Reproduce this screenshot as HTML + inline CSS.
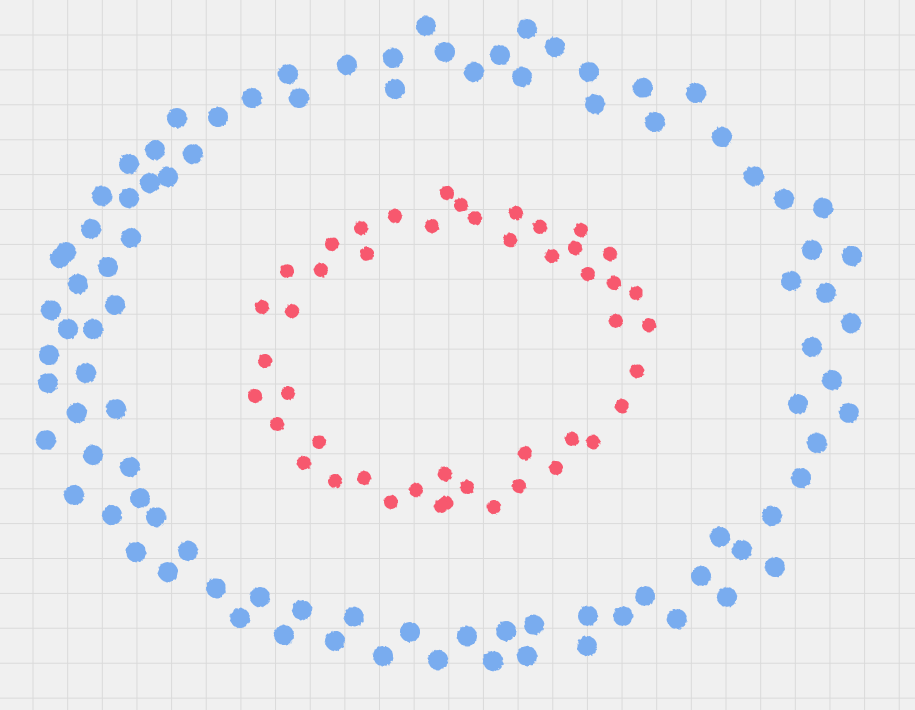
<!DOCTYPE html>
<html><head><meta charset="utf-8"><style>
html,body{margin:0;padding:0;background:#f0f0f0;}
svg{display:block;}
</style></head><body>
<svg id="chart" width="915" height="710" xmlns="http://www.w3.org/2000/svg">
<defs>
<filter id="rough" x="-30%" y="-30%" width="160%" height="160%">
<feTurbulence type="fractalNoise" baseFrequency="0.35" numOctaves="2" seed="3" result="n"/>
<feDisplacementMap in="SourceGraphic" in2="n" scale="3"/>
</filter>
</defs>
<rect width="915" height="710" fill="#f0f0f0"/>
<g id="grid"></g>
<g id="outer" filter="url(#rough)"></g>
<g id="inner" filter="url(#rough)"></g>
</svg>
<script>
const outerX=[426,527,445,500,555,393,347,288,474,522,589,395,252,299,643,696,595,177,218,655,722,155,129,193,168,150,754,102,129,784,823,91,131,66,60,812,852,108,78,791,826,51,115,68,93,851,812,49,86,832,48,116,77,798,849,46,93,817,130,801,74,140,112,156,772,720,136,188,742,168,775,701,216,727,260,645,588,623,302,240,354,677,534,506,284,335,410,467,587,383,438,493,527];
const outerY=[26,29,52,55,47,58,65,74,72,77,72,89,98,98,88,93,104,118,117,122,137,150,164,154,177,183,176,196,198,199,208,229,238,252,258,250,256,267,284,281,293,310,305,329,329,323,347,355,373,380,383,409,413,404,413,440,455,443,467,478,495,498,515,517,516,537,552,551,550,572,567,576,588,597,597,596,616,616,610,618,617,619,625,631,635,641,632,636,646,656,660,661,656];
const innerX=[447,461,475,395,432,516,361,540,581,332,510,575,367,552,610,287,321,588,614,636,262,292,616,649,265,637,255,288,622,277,572,319,593,525,304,556,445,335,364,519,467,416,391,446,441,494];
const innerY=[193,205,218,216,226,213,228,227,230,244,240,248,254,256,254,271,270,274,283,293,307,311,321,325,361,371,396,393,406,424,439,442,442,453,463,468,474,481,478,486,487,490,502,503,506,507];
const xScale=v=>v*915/915;
const yScale=v=>v*710/710;
const NS="http://www.w3.org/2000/svg";
const grid=document.getElementById('grid');
for(let gx=33;gx<915;gx+=34.65){
 const l=document.createElementNS(NS,'line');
 
 
 l.setAttribute('x1',gx);l.setAttribute('x2',gx);l.setAttribute('y1',0);l.setAttribute('y2',710);
 l.setAttribute('stroke','#dadada');l.setAttribute('stroke-width','1');grid.appendChild(l);
}
for(let gy=35;gy<710;gy+=34.9){
 const l=document.createElementNS(NS,'line');
 
 
 l.setAttribute('x1',0);l.setAttribute('x2',915);l.setAttribute('y1',gy);l.setAttribute('y2',gy);
 l.setAttribute('stroke','#dadada');l.setAttribute('stroke-width','1');grid.appendChild(l);
}
function draw(g,xs,ys,r,color,name){
 for(let i=0;i<xs.length;i++){
  const c=document.createElementNS(NS,'circle');
  
  
  c.setAttribute('cx',xScale(xs[i]));c.setAttribute('cy',yScale(ys[i]));
  c.setAttribute('r',r);c.setAttribute('fill',color);
  g.appendChild(c);
 }
}
draw(document.getElementById('outer'),outerX,outerY,10,'#79acef','outer-point');
draw(document.getElementById('inner'),innerX,innerY,7,'#f7586e','inner-point');
</script>
</body></html>
